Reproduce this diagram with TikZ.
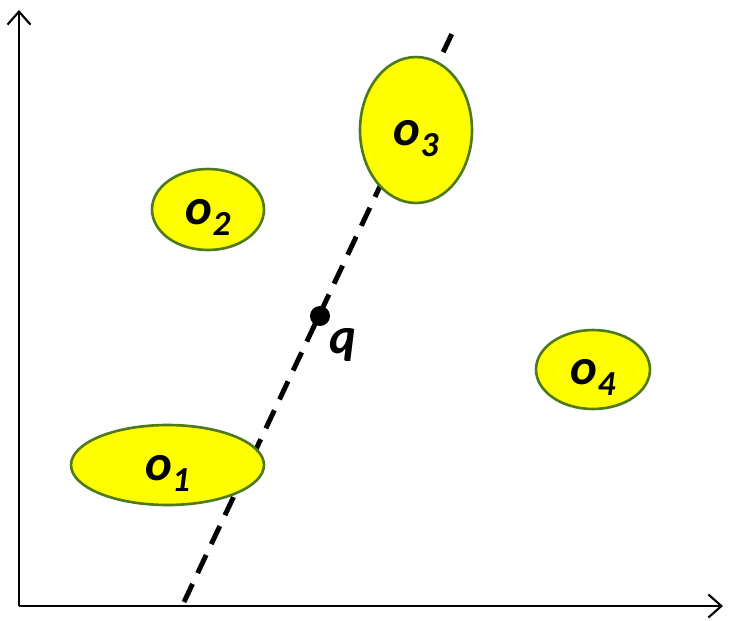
\documentclass[tikz,border=0pt]{standalone}
\usepackage{fontspec}
\setmainfont{Carlito}
\usetikzlibrary{arrows.meta,shapes.geometric}
\definecolor{objfill}{RGB}{255,255,0}
\definecolor{objline}{RGB}{79,122,26}
\newcommand{\olab}[1]{\bfseries\itshape o\raisebox{-6.5pt}{\fontsize{20}{20}\selectfont #1}}

\begin{document}
\begin{tikzpicture}[x=0.02cm, y=-0.02cm,
  axis/.style={line width=1.2pt, -{Straight Barb[length=0.26cm, width=0.46cm, line width=1.2pt]}},
  obj/.style={ellipse, draw=objline, line width=1.5pt, fill=objfill, inner sep=0pt,
    font=\fontsize{29}{29}\selectfont, text height=0.83cm, text depth=0.23cm},
  qline/.style={line width=2.8pt, dash pattern=on 0.4cm off 0.24cm}]
  \useasboundingbox (0,0) rectangle (731,620);
  % axes
  \coordinate (orig) at (19,606);
  \coordinate (ytip) at (19,10);
  \coordinate (xtip) at (723,606);
  \draw[axis] (orig) -- (ytip);
  \draw[axis] (orig) -- (xtip);
  % query line through q (behind the objects)
  \coordinate (lnA) at (184,602);
  \coordinate (lnB) at (456,25);
  \draw[qline] (lnA) -- (lnB);
  \fill (320,316) circle (0.2cm) coordinate (q);
  \node[font=\fontsize{29}{29}\selectfont\bfseries\itshape] (qlab) at (343,345) {q};
  % objects
  \node[obj, minimum width=3.86cm, minimum height=1.6cm] (o1) at (167.5,465) {\olab{1}};
  \node[obj, minimum width=2.24cm, minimum height=1.62cm] (o2) at (208,209.5) {\olab{2}};
  \node[obj, minimum width=2.24cm, minimum height=2.92cm] (o3) at (416,130) {\olab{3}};
  \node[obj, minimum width=2.28cm, minimum height=1.58cm] (o4) at (593,369.5) {\olab{4}};
\end{tikzpicture}
\end{document}
